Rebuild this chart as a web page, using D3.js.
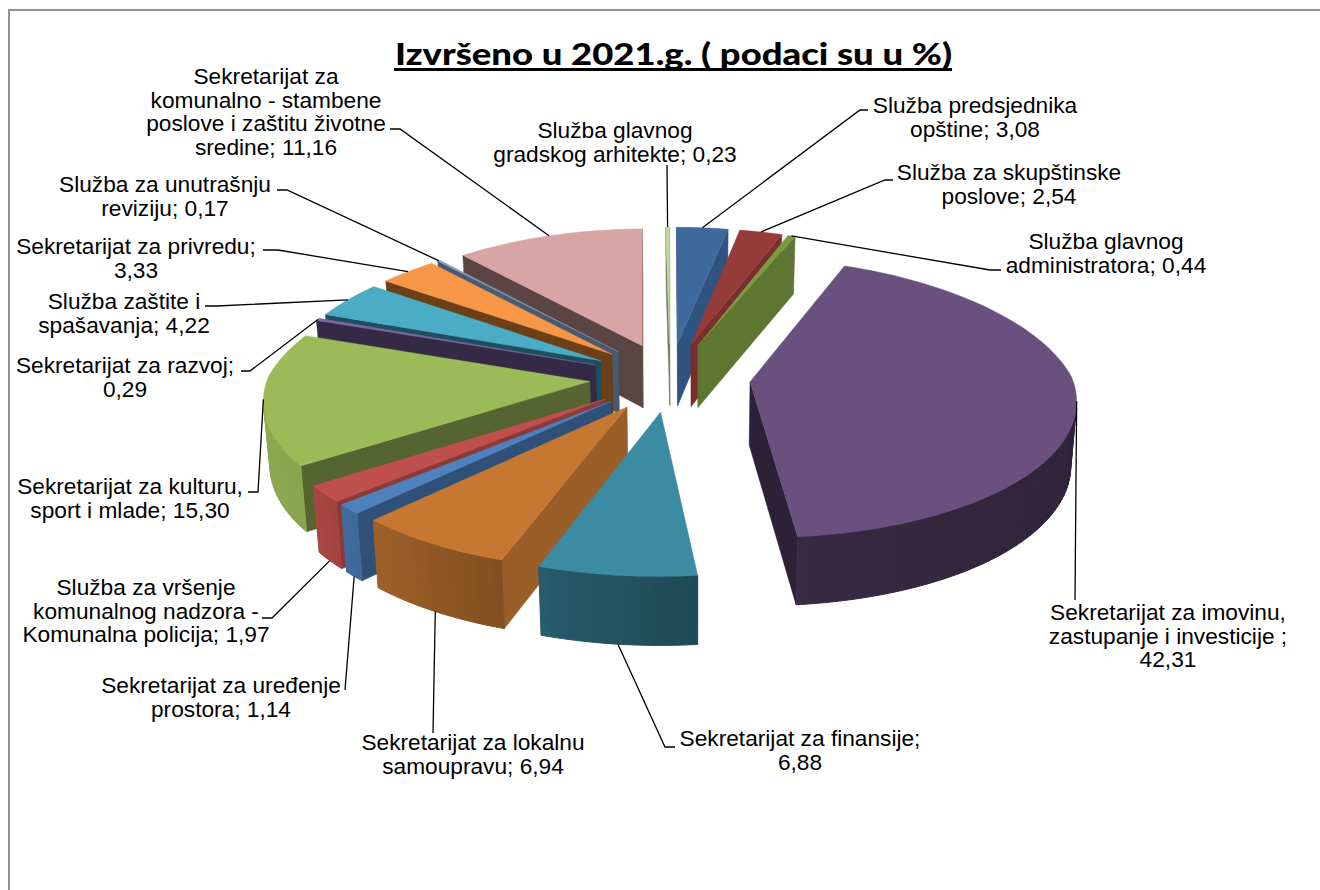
<!DOCTYPE html>
<html lang="en">

<head>
    <meta charset="UTF-8">
    <title>Izvršeno u 2021.g.</title>
    <script src="https://cdnjs.cloudflare.com/ajax/libs/d3/7.6.0/d3.min.js"></script>
    <style>
        html, body { margin: 0; padding: 0; background: #fff; overflow: hidden; }
        svg { display: block; }
        .label { font-family: "Liberation Sans", Arial, sans-serif; font-size: 22.7px; fill: #000; text-anchor: middle; }
        .title { font-family: Lato, "Open Sans", sans-serif; font-weight: 900; font-size: 31px; fill: #000; }
    </style>
</head>

<body>
    <div id="chart"></div>
    <script>
        const title = "Izvršeno u 2021.g. ( podaci su u %)";

        // Data, clockwise from 12 o'clock
        const values = [3.08, 2.54, 0.44, 42.31, 6.88, 6.94, 1.14, 1.97, 15.30, 0.29, 4.22, 3.33, 0.17, 11.16, 0.23];
        const labels = [
            ["Služba predsjednika", "opštine; 3,08"],
            ["Služba za skupštinske", "poslove; 2,54"],
            ["Služba glavnog", "administratora; 0,44"],
            ["Sekretarijat za imovinu,", "zastupanje i investicije ;", "42,31"],
            ["Sekretarijat za finansije;", "6,88"],
            ["Sekretarijat za lokalnu", "samoupravu; 6,94"],
            ["Sekretarijat za uređenje", "prostora; 1,14"],
            ["Služba za vršenje", "komunalnog nadzora -", "Komunalna policija; 1,97"],
            ["Sekretarijat za kulturu,", "sport i mlade; 15,30"],
            ["Sekretarijat za razvoj;", "0,29"],
            ["Služba zaštite i", "spašavanja; 4,22"],
            ["Sekretarijat za privredu;", "3,33"],
            ["Služba za unutrašnju", "reviziju; 0,17"],
            ["Sekretarijat za", "komunalno - stambene", "poslove i zaštitu životne", "sredine; 11,16"],
            ["Služba glavnog", "gradskog arhitekte; 0,23"]
        ];

        // Colours
        const topColors = ["#3e6a9c", "#953c3a", "#7a9b44", "#69507f", "#3b8ca3", "#c67832", "#4f81bd", "#c0504d", "#9bbb59", "#8064a2", "#4bacc6", "#f79646", "#7f99b8", "#d7a5a5", "#c3d69b"];
        const cutColors = ["#2f5482", "#7a2f2d", "#5f7532", "#2d2138", "#2a6272", "#9a5f28", "#2f5078", "#8a3a38", "#556430", "#352a45", "#1a5060", "#6b3f18", "#4a5a6e", "#5a4544", "#6f7a60"];

        // Label layout: centre x, first baseline y, and the elbow of the leader line
        const labelX = [975, 1009, 1106, 1168, 800, 473, 221, 146, 130, 125, 124, 136, 165, 266, 615];
        const labelY = [113, 180, 249, 620, 746, 750, 693, 595, 494, 373, 309, 254, 192, 84, 138];
        const elbowX = [[860, 868], [885, 893], [990, 1001], [1075], [665, 675], [433], [345], [272, 262], [258, 248], [250, 241], [217, 205], [278, 263], [287, 277], [400, 390], [667]];
        const elbowY = [[110, 110], [180, 180], [270, 270], [600], [747, 747], [733], [690], [618, 618], [492, 492], [371, 371], [306, 306], [250, 250], [190, 190], [129, 129], [165]];
        const lineHeight = 23.6;

        const width = 1320, height = 890;
        const explode = 0.25, persp = 0.114;

        // plane -> screen, x and z divided by the perspective term first
        const xScale = d3.scaleLinear().domain([-1, 1]).range([348, 992]);
        const yScale = d3.scaleLinear().domain([-1, 1]).range([514, 240]);
        const xNarrow = d3.scaleLinear().domain([-1.25, 0, 1.25]).range([1, 1, 0.95]);
        const depthScale = d3.scaleLinear().domain([-1.25, 1.25]).range([69, 57]);
        const baseX = d3.scaleLinear().domain([0, 1320]).range([10.5, 1310.5]);
        const rimShade = d3.scaleLinear().domain([90, 174, 210, 235, 290]).range([0.42, 0.52, 0.72, 0.88, 0.95]).clamp(true);

        const slices = d3.pie().sort(null).value(d => d)(values).map((d, i) => {
            const mid = (d.startAngle + d.endAngle) / 2;
            return { i, start: d.startAngle, end: d.endAngle, mid };
        });

        const project = (x, z) => {
            const w = 1 + persp * z;
            return [xScale(x * xNarrow(z) / w), yScale(z / w), depthScale(z)];
        };
        const topPoint = (s, r, t) => {
            const p = project(r * Math.sin(t) + explode * Math.sin(s.mid), r * Math.cos(t) + explode * Math.cos(s.mid));
            return [p[0], p[1]];
        };
        const basePoint = (s, r, t) => {
            const p = project(r * Math.sin(t) + explode * Math.sin(s.mid), r * Math.cos(t) + explode * Math.cos(s.mid));
            return [baseX(p[0]), p[1] + p[2]];
        };

        const svg = d3.select("#chart").append("svg").attr("width", width).attr("height", height);

        svg.append("rect")
            .attr("x", 9).attr("y", 10)
            .attr("width", width + 20).attr("height", height + 20)
            .attr("fill", "#fff").attr("stroke", "#909090").attr("stroke-width", 2);

        svg.append("text").attr("class", "title")
            .attr("x", 395).attr("y", 65)
            .attr("textLength", 557).attr("lengthAdjust", "spacingAndGlyphs")
            .text(title);
        svg.append("line")
            .attr("x1", 394).attr("x2", 952).attr("y1", 69.5).attr("y2", 69.5)
            .attr("stroke", "#000").attr("stroke-width", 3);

        const line = d3.line();
        const rimAngles = s => {
            const n = Math.max(1, Math.ceil((s.end - s.start) / (1.5 * Math.PI / 180)));
            return d3.range(n + 1).map(k => s.start + (s.end - s.start) * k / n);
        };
        const shade = (color, f) => {
            const c = d3.rgb(color);
            return d3.rgb(c.r * f, c.g * f, c.b * f).formatHex();
        };
        // only walls that face the viewer get drawn
        const quad = (g, pts, fill, sw) => {
            if (d3.polygonArea(pts) <= 0) return;
            g.append("path").attr("d", line(pts) + "Z").attr("fill", fill).attr("stroke", fill).attr("stroke-width", sw);
        };

        // paint from the far side of the pie to the near side
        const farDistance = s => Math.min(s.mid, 2 * Math.PI - s.mid);
        const order = slices.slice().sort((a, b) => d3.ascending(farDistance(a), farDistance(b)));

        order.forEach(s => {
            const g = svg.append("g");
            const top = topColors[s.i], cut = cutColors[s.i];
            const angles = rimAngles(s);

            // radial cut faces
            quad(g, [topPoint(s, 1, s.start), basePoint(s, 1, s.start), basePoint(s, 0, s.start), topPoint(s, 0, s.start)], cut, 0.5);
            quad(g, [topPoint(s, 0, s.end), basePoint(s, 0, s.end), basePoint(s, 1, s.end), topPoint(s, 1, s.end)], cut, 0.5);

            // rim, in narrow bands so the shading steps along it
            d3.pairs(angles).forEach(([a, b]) => {
                const deg = (a + b) / 2 * 180 / Math.PI;
                quad(g, [topPoint(s, 1, b), basePoint(s, 1, b), basePoint(s, 1, a), topPoint(s, 1, a)], shade(top, rimShade(deg)), 1);
            });

            // top surface
            const outline = [topPoint(s, 0, s.start)].concat(angles.map(t => topPoint(s, 1, t)));
            g.append("path").attr("d", line(outline) + "Z").attr("fill", top).attr("stroke", top).attr("stroke-width", 0.4);
        });

        // leader lines start at the middle of each slice's rim
        slices.forEach(s => {
            const front = Math.cos(s.mid) < -0.3;
            const anchor = front ? basePoint(s, 1, s.mid) : topPoint(s, 1, s.mid);
            const pts = [anchor].concat(elbowX[s.i].map((x, k) => [x, elbowY[s.i][k]]));
            svg.append("path").attr("d", line(pts)).attr("fill", "none").attr("stroke", "#000").attr("stroke-width", 1.3);
        });

        labels.forEach((lines, i) => {
            const t = svg.append("text").attr("class", "label");
            lines.forEach((txt, k) => {
                t.append("tspan").attr("x", labelX[i]).attr("y", labelY[i] + k * lineHeight).text(txt);
            });
        });
    </script>
</body>

</html>
